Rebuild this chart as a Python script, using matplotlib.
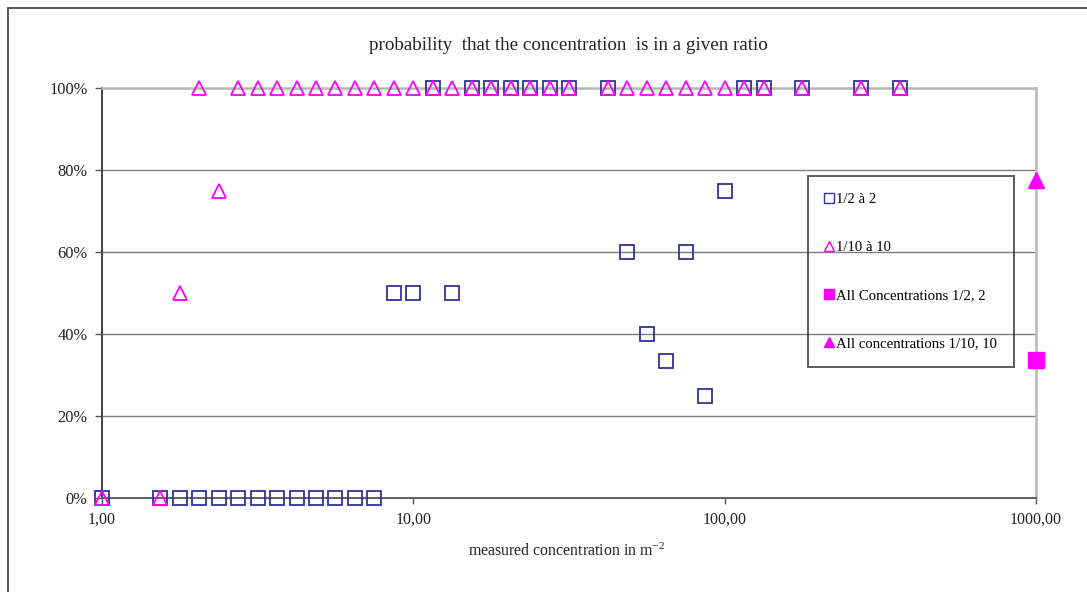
import matplotlib
matplotlib.use("Agg")
import matplotlib.pyplot as plt
from matplotlib.lines import Line2D
from matplotlib.patches import Rectangle
from matplotlib.ticker import FixedLocator, FixedFormatter, NullLocator

plt.rcParams["font.family"] = ["Liberation Serif", "DejaVu Serif"]
plt.rcParams["mathtext.fontset"] = "custom"
plt.rcParams["mathtext.rm"] = "Liberation Serif"
plt.rcParams["mathtext.it"] = "Liberation Serif:italic"

# measured concentrations (m-2)
concentration = [1.00, 1.54, 1.78, 2.05, 2.37, 2.74, 3.16, 3.65, 4.22, 4.87,
                 5.62, 6.49, 7.50, 8.66, 10.0, 11.55, 13.34, 15.40, 17.78,
                 20.54, 23.71, 27.38, 31.62, 42.17, 48.70, 56.23, 64.94,
                 74.99, 86.60, 100.0, 115.5, 133.4, 177.8, 273.8, 365.2]

# probability of being within a factor 2
prob_half_2 = [0, 0, 0, 0, 0, 0, 0, 0, 0, 0,
               0, 0, 0, 0.5, 0.5, 1, 0.5, 1, 1,
               1, 1, 1, 1, 1, 0.6, 0.4, 0.333,
               0.6, 0.25, 0.75, 1, 1, 1, 1, 1]

# probability of being within a factor 10
prob_tenth_10 = [0, 0, 0.5, 1, 0.75, 1, 1, 1, 1, 1,
                 1, 1, 1, 1, 1, 1, 1, 1, 1,
                 1, 1, 1, 1, 1, 1, 1, 1,
                 1, 1, 1, 1, 1, 1, 1, 1]

# pooled results over all concentrations
all_conc_x = [1000.0]
all_half_2 = [0.336]
all_tenth_10 = [0.776]

x_ticks = [1, 10, 100, 1000]
x_tick_labels = ["1,00", "10,00", "100,00", "1000,00"]
y_ticks = [0, 0.2, 0.4, 0.6, 0.8, 1.0]
y_tick_labels = ["0%", "20%", "40%", "60%", "80%", "100%"]

navy = "#333399"
magenta = "#FF00FF"

W, H = 1087, 592
fig = plt.figure(figsize=(W / 100, H / 100), dpi=100)
fig.patch.set_facecolor("white")

# chart frame
fig.patches.append(Rectangle((8 / W, -0.1), 1.2, 1 - 8 / H + 0.1,
                             transform=fig.transFigure, fill=False,
                             edgecolor="#555555", linewidth=1.4, zorder=0))

ax = fig.add_axes([102 / W, 1 - 498 / H, (1036 - 102) / W, (498 - 88) / H])
ax.set_xscale("log")
ax.set_xlim(1, 1000)
ax.set_ylim(0, 1)

for y in y_ticks[1:]:
    ax.axhline(y, color="#7f7f7f", linewidth=1.0, zorder=1)

ax.plot(concentration, prob_half_2, linestyle="none", marker="s",
        markersize=10.5, markerfacecolor="none", markeredgecolor=navy,
        markeredgewidth=1.3, clip_on=False, zorder=3)
ax.plot(concentration, prob_tenth_10, linestyle="none", marker="^",
        markersize=9.5, markerfacecolor="none", markeredgecolor=magenta,
        markeredgewidth=1.3, clip_on=False, zorder=4)
ax.plot(all_conc_x, all_half_2, linestyle="none", marker="s",
        markersize=11.5, color=magenta, clip_on=False, zorder=5)
ax.plot(all_conc_x, all_tenth_10, linestyle="none", marker="^",
        markersize=12, color=magenta, clip_on=False, zorder=5)

ax.xaxis.set_major_locator(FixedLocator(x_ticks))
ax.xaxis.set_major_formatter(FixedFormatter(x_tick_labels))
ax.xaxis.set_minor_locator(NullLocator())
ax.yaxis.set_major_locator(FixedLocator(y_ticks))
ax.yaxis.set_major_formatter(FixedFormatter(y_tick_labels))
ax.tick_params(axis="x", direction="out", length=4, width=1, color="#555555",
               labelsize=11.5, pad=5.5, labelcolor="#222222")
ax.tick_params(axis="y", direction="out", length=5, width=1, color="#555555",
               labelsize=11.8, pad=5.5, labelcolor="#222222")

ax.spines["left"].set_color("#404040")
ax.spines["left"].set_linewidth(1.4)
ax.spines["bottom"].set_color("#606060")
ax.spines["bottom"].set_linewidth(1.4)
ax.spines["top"].set_color("#b8b8b8")
ax.spines["top"].set_linewidth(1.8)
ax.spines["right"].set_color("#b8b8b8")
ax.spines["right"].set_linewidth(1.8)

handles = [
    Line2D([], [], linestyle="none", marker="s", markersize=7,
           markerfacecolor="none", markeredgecolor=navy, markeredgewidth=1.0),
    Line2D([], [], linestyle="none", marker="^", markersize=7,
           markerfacecolor="none", markeredgecolor=magenta, markeredgewidth=1.0),
    Line2D([], [], linestyle="none", marker="s", markersize=7, color=magenta),
    Line2D([], [], linestyle="none", marker="^", markersize=7, color=magenta),
]
labels = ["1/2 à 2", "1/10 à 10", "All Concentrations 1/2, 2",
          "All concentrations 1/10, 10"]
leg = ax.legend(handles, labels, loc="upper left",
                bbox_to_anchor=((808 - 102) / 934, (498 - 176) / 410),
                fontsize=10.6, frameon=True, fancybox=False,
                handlelength=0.6, handletextpad=0.15, labelspacing=2.35,
                borderpad=1.15, borderaxespad=0, facecolor="none")
leg.get_frame().set_edgecolor("#333333")
leg.get_frame().set_linewidth(1.4)
leg.set_zorder(2)

fig.text(568 / W, 1 - 45 / H, "probability  that the concentration  is in a given ratio",
         ha="center", va="center", fontsize=13.7, color="#222222")
fig.text(567 / W, 1 - 551 / H, r"measured concentration in m$^{-2}$",
         ha="center", va="center", fontsize=11.4, color="#222222")

fig.savefig("out.png", dpi=100, facecolor="white")
